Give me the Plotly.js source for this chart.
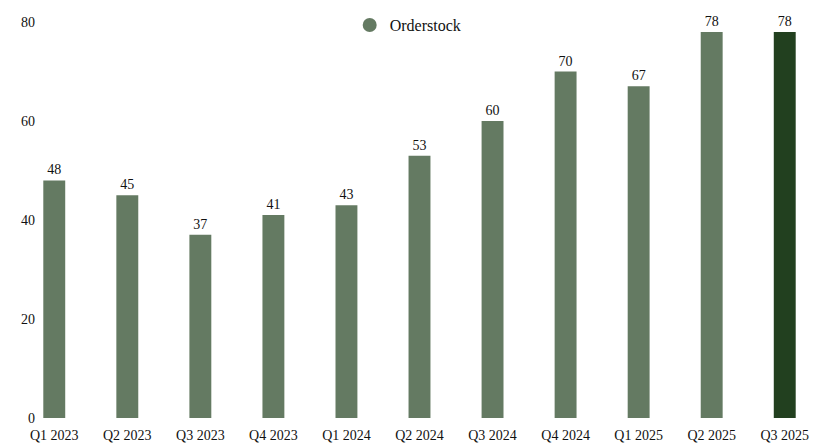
<!DOCTYPE html>
<html>
<head>
<meta charset="utf-8">
<script src="https://cdn.plot.ly/plotly-3.0.1.min.js"></script>
<style>html,body{margin:0;padding:0;background:#fff;}#chart{width:820px;height:446px;}</style>
</head>
<body>
<div id="chart"></div>
<script>
var quarters = ["Q1 2023","Q2 2023","Q3 2023","Q4 2023","Q1 2024","Q2 2024","Q3 2024","Q4 2024","Q1 2025","Q2 2025","Q3 2025"];
var orderstock = [48,45,37,41,43,53,60,70,67,78,78];
var yTicks = [0,20,40,60,80];
var seriesName = "Orderstock";

var baseColor = "#647a62";
var highlightColor = "#22401f";
var colors = quarters.map(function(q, i){ return i === quarters.length - 1 ? highlightColor : baseColor; });
var serif = "Liberation Serif, Times New Roman, serif";

var traces = [
  {
    type: "bar",
    x: quarters,
    y: orderstock,
    width: 0.3,
    marker: {color: colors},
    text: orderstock.map(String),
    textposition: "outside",
    cliponaxis: false,
    textfont: {family: serif, size: 14, color: "#111"},
    showlegend: false,
    hoverinfo: "x+y"
  },
  {
    type: "scatter",
    mode: "markers",
    x: [null],
    y: [null],
    name: seriesName,
    marker: {color: baseColor, size: 14, symbol: "circle"},
    showlegend: true
  }
];

var layout = {
  width: 820,
  height: 446,
  margin: {l: 36, r: 17, t: 22, b: 28, autoexpand: false},
  paper_bgcolor: "#fff",
  plot_bgcolor: "#fff",
  font: {family: serif, color: "#111"},
  showlegend: true,
  legend: {
    orientation: "h",
    x: 0.409, xanchor: "left",
    y: 0.992, yanchor: "middle",
    font: {family: serif, size: 16, color: "#111"},
    bgcolor: "rgba(0,0,0,0)",
    itemsizing: "trace"
  },
  xaxis: {
    type: "category",
    range: [-0.25, 10.25],
    showgrid: false, zeroline: false, showline: false,
    ticks: "outside", ticklen: 4, tickcolor: "rgba(0,0,0,0)",
    tickfont: {family: serif, size: 14, color: "#111"},
    fixedrange: true
  },
  yaxis: {
    range: [0, 80],
    tickvals: yTicks,
    ticktext: yTicks.map(String),
    showgrid: false, zeroline: false, showline: false,
    ticks: "", tickfont: {family: serif, size: 14, color: "#111"},
    fixedrange: true
  },
  bargap: 0.7
};

Plotly.newPlot("chart", traces, layout, {displayModeBar: false, staticPlot: true});
</script>
</body>
</html>
